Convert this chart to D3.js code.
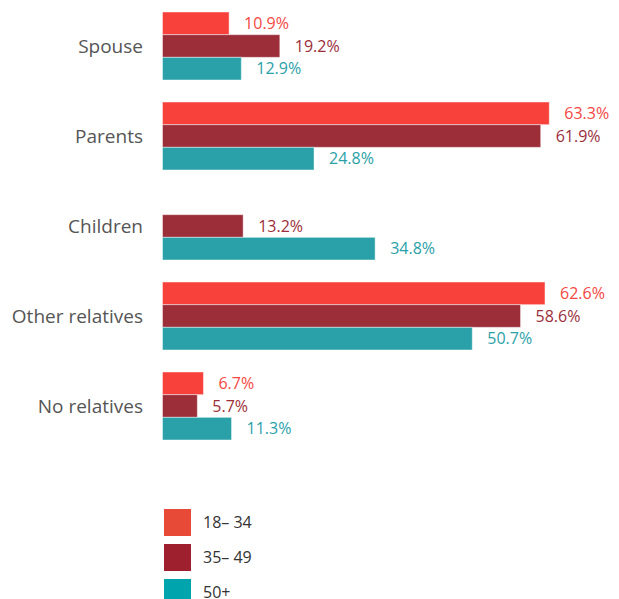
<!DOCTYPE html>
<html>
<head>
<meta charset="utf-8">
<script src="https://cdn.jsdelivr.net/npm/d3@7"></script>
<style>
  html, body { margin: 0; padding: 0; background: #fff; }
  svg { display: block; font-family: "Open Sans", "Noto Sans", sans-serif; }
</style>
</head>
<body>
<svg id="chart" width="619" height="599"></svg>
<script>
// Household members by age group of respondent (%)
const categories = ["Spouse", "Parents", "Children", "Other relatives", "No relatives"];
const seriesNames = ["18– 34", "35– 49", "50+"];
const values18to34 = [10.9, 63.3, null, 62.6, 6.7];
const values35to49 = [19.2, 61.9, 13.2, 58.6, 5.7];
const values50plus = [12.9, 24.8, 34.8, 50.7, 11.3];

const barColors = ["#f8413b", "#9c2e3a", "#2aa1a8"];
const labelColors = ["#f5473f", "#9c2e3a", "#2aa1a8"];
const legendColors = ["#e84a38", "#9e1f2d", "#00a4ac"];

const seriesValues = [values18to34, values35to49, values50plus];

const svg = d3.select("#chart");

const x = d3.scaleLinear().domain([0, 100]).range([162.5, 773.5]);

const y = d3.scaleBand()
  .domain(categories)
  .range([12, 440])
  .paddingInner(22 / 90)
  .paddingOuter(0);

const ySub = d3.scaleBand()
  .domain(seriesNames)
  .range([0, y.bandwidth()]);

const rows = categories.map((c, i) => ({
  category: c,
  bars: seriesNames.map((s, j) => ({ series: s, idx: j, value: seriesValues[j][i] }))
}));

const group = svg.selectAll("g.cat")
  .data(rows)
  .join("g")
  .attr("class", "cat")
  .attr("transform", d => `translate(0,${y(d.category)})`);

// category names, centred on the middle bar
group.append("text")
  .attr("x", 143)
  .attr("y", ySub(seriesNames[1]) + ySub.bandwidth() / 2)
  .attr("dy", "0.35em")
  .attr("text-anchor", "end")
  .attr("fill", "#555")
  .style("font-size", "19px")
  .text(d => d.category);

const bars = d3.select("#chart").selectAll("g.cat").selectAll("g.bar")
  .data(d => d.bars.filter(b => b.value != null))
  .join("g")
  .attr("class", "bar");

bars.append("rect")
  .attr("x", x(0))
  .attr("y", d => ySub(d.series))
  .attr("width", d => x(d.value) - x(0))
  .attr("height", ySub.bandwidth())
  .attr("fill", d => barColors[d.idx])
  .attr("stroke", "rgba(255,255,255,0.45)")
  .attr("stroke-width", 1);

bars.append("text")
  .attr("x", d => x(d.value) + 15)
  .attr("y", d => ySub(d.series) + ySub.bandwidth() / 2)
  .attr("dy", "0.35em")
  .attr("fill", d => labelColors[d.idx])
  .style("font-size", "16px")
  .text(d => d3.format(".1f")(d.value) + "%");

// legend
const legend = svg.append("g").attr("transform", "translate(164,509)");
const item = legend.selectAll("g")
  .data(seriesNames)
  .join("g")
  .attr("transform", (d, i) => `translate(0,${i * 35})`);

item.append("rect")
  .attr("width", 27)
  .attr("height", 27)
  .attr("fill", (d, i) => legendColors[i]);

item.append("text")
  .attr("x", 39)
  .attr("y", 13.5)
  .attr("dy", "0.35em")
  .attr("fill", "#333")
  .style("font-size", "16px")
  .text(d => d);
</script>
</body>
</html>
